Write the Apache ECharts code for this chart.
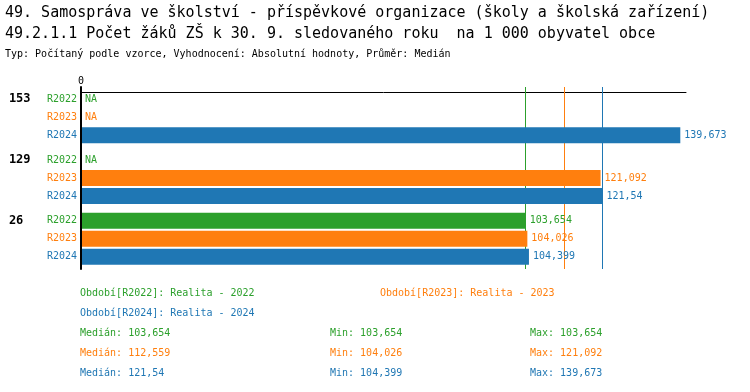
<!DOCTYPE html>
<html><head><meta charset="utf-8">
<script src="https://cdn.jsdelivr.net/npm/echarts@6/dist/echarts.min.js"></script>
<style>html,body{margin:0;padding:0;background:#fff}#c{width:750px;height:392px}</style>
</head><body><div id="c"></div>
<script>
const titleMain = '49. Samospráva ve školství - příspěvkové organizace (školy a školská zařízení)';
const titleSub = '49.2.1.1 Počet žáků ZŠ k 30. 9. sledovaného roku  na 1 000 obyvatel obce';
const titleInfo = 'Typ: Počítaný podle vzorce, Vyhodnocení: Absolutní hodnoty, Průměr: Medián';
const groups = ['153', '129', '26'];
const periods = ['R2022', 'R2023', 'R2024'];
const periodNames = ['Realita - 2022', 'Realita - 2023', 'Realita - 2024'];
const colors = ['#2ca02c', '#ff7f0e', '#1f77b4'];
const r2022 = [null, null, 103.654];
const r2023 = [null, 121.092, 104.026];
const r2024 = [139.673, 121.54, 104.399];
const axisMax = 141;

const seriesValues = [r2022, r2023, r2024];
const FONT = 'DejaVu Sans Mono';
const fmt = v => String(+v.toFixed(3)).replace('.', ',');
const valid = a => a.filter(v => v != null);
const median = a => { const s = valid(a).sort((x, y) => x - y); const n = s.length; return n % 2 ? s[(n - 1) / 2] : (s[n / 2 - 1] + s[n / 2]) / 2; };
const minOf = a => Math.min(...valid(a));
const maxOf = a => Math.max(...valid(a));

const titles = [
  {text: titleMain, left: 0, top: 1, textStyle: {fontFamily: FONT, fontSize: 15, fontWeight: 'normal', color: '#000'}},
  {text: titleSub, left: 0, top: 22, textStyle: {fontFamily: FONT, fontSize: 15, fontWeight: 'normal', color: '#000'}},
  {text: titleInfo, left: 0, top: 44, textStyle: {fontFamily: FONT, fontSize: 10, fontWeight: 'normal', color: '#000'}}
];
const legendPos = [[80, 288], [380, 288], [80, 308]];
periods.forEach((p, i) => {
  titles.push({text: 'Období[' + p + ']: ' + periodNames[i], left: legendPos[i][0], top: legendPos[i][1], padding: 0,
    textStyle: {fontFamily: FONT, fontSize: 10, fontWeight: 'normal', color: colors[i]}});
});
seriesValues.forEach((arr, i) => {
  const top = 328 + i * 20;
  [['Medián: ' + fmt(median(arr)), 80], ['Min: ' + fmt(minOf(arr)), 330], ['Max: ' + fmt(maxOf(arr)), 530]].forEach(([t, x]) => {
    titles.push({text: t, left: x, top: top, padding: 0, textStyle: {fontFamily: FONT, fontSize: 10, fontWeight: 'normal', color: colors[i]}});
  });
});

const rich = {g: {fontFamily: FONT, fontSize: 12, fontWeight: 'bold', color: '#000', width: 38, align: 'left', lineHeight: 18}};
periods.forEach((p, i) => { rich['p' + i] = {fontFamily: FONT, fontSize: 10, color: colors[i], align: 'right', lineHeight: 18}; });

const series = periods.map((p, i) => ({
  name: p,
  type: 'bar',
  z: 3,
  barWidth: 16,
  barGap: '12.5%',
  barCategoryGap: 8,
  itemStyle: {color: colors[i]},
  data: seriesValues[i].map(v => v == null ? 0 : v),
  label: {show: true, position: 'right', distance: 4, fontFamily: FONT, fontSize: 10, color: colors[i],
    formatter: prm => seriesValues[i][prm.dataIndex] == null ? 'NA' : fmt(seriesValues[i][prm.dataIndex])},
  markLine: {silent: true, z: 1, symbol: 'none', label: {show: false},
    lineStyle: {color: colors[i], width: 1, type: 'solid'},
    data: [{xAxis: median(seriesValues[i])}]},
  animation: false
}));

const chart = echarts.init(document.getElementById('c'));
chart.setOption({
  animation: false,
  title: titles,
  grid: {left: 81, right: 64, top: 87, bottom: 123, containLabel: false},
  xAxis: {type: 'value', position: 'top', offset: -5, min: 0, max: axisMax,
    axisLine: {show: true, lineStyle: {color: '#000', width: 1}},
    axisTick: {show: false}, splitLine: {show: false},
    axisLabel: {fontFamily: FONT, fontSize: 10, color: '#000', margin: 6, formatter: v => v === 0 ? '0' : ''}},
  yAxis: {type: 'category', inverse: true, data: groups, z: 4,
    axisLine: {show: true, lineStyle: {color: '#000', width: 2}},
    axisTick: {show: false},
    axisLabel: {margin: 4, rich: rich,
      formatter: g => '{g|' + g + '}{p0|' + periods[0] + '}\n{p1|' + periods[1] + '}\n{p2|' + periods[2] + '}'}},
  series: series
});
</script></body></html>
